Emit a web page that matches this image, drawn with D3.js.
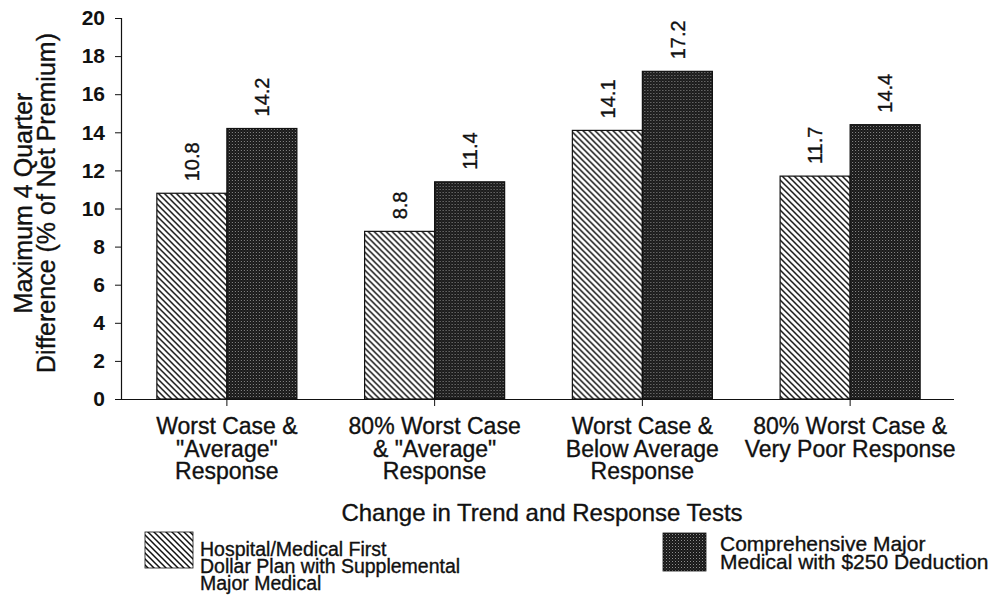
<!DOCTYPE html>
<html>
<head>
<meta charset="utf-8">
<script src="https://cdn.jsdelivr.net/npm/d3@7/dist/d3.min.js"></script>
<style>
  html, body { margin: 0; padding: 0; background: #fff; }
  svg { display: block; font-family: "Liberation Sans", Arial, Helvetica, sans-serif; }
  .heavy { stroke: #111; stroke-width: 0.35px; }
</style>
</head>
<body>
<svg id="chart" width="1003" height="598"></svg>
<script>
// Test scenarios (x categories), one label line per entry
const categories = ["wc_avg", "wc80_avg", "wc_below", "wc80_poor"];
const categoryLines = [
  ["Worst Case &", "\"Average\"", "Response"],
  ["80% Worst Case", "& \"Average\"", "Response"],
  ["Worst Case &", "Below Average", "Response"],
  ["80% Worst Case &", "Very Poor Response"]
];
// Plan types (series)
const seriesKeys = ["firstDollar", "majorMedical"];
const seriesLegend = [
  ["Hospital/Medical First", "Dollar Plan with Supplemental", "Major Medical"],
  ["Comprehensive Major", "Medical with $250 Deduction"]
];
// Maximum 4-quarter difference, % of net premium
const firstDollarValues = [10.8, 8.8, 14.1, 11.7];
const majorMedicalValues = [14.2, 11.4, 17.2, 14.4];
const yTicks = [0, 2, 4, 6, 8, 10, 12, 14, 16, 18, 20];
const yTitleLines = ["Maximum 4 Quarter", "Difference (% of Net Premium)"];
const xTitle = "Change in Trend and Response Tests";

const rows = categories.map((c, i) => ({
  cat: c,
  values: [
    { key: seriesKeys[0], value: firstDollarValues[i] },
    { key: seriesKeys[1], value: majorMedicalValues[i] }
  ]
}));

const svg = d3.select("#chart");

// fill patterns: diagonal hatch and dark stipple
const defs = svg.append("defs");
const hatch = defs.append("pattern")
  .attr("id", "hatch").attr("patternUnits", "userSpaceOnUse")
  .attr("width", 6).attr("height", 6);
hatch.append("rect").attr("width", 6).attr("height", 6).attr("fill", "#fff");
hatch.append("path")
  .attr("d", "M0,0 L6,6 M-1,5 L1,7 M5,-1 L7,1")
  .attr("stroke", "#111").attr("stroke-width", 1.5);

const stipple = defs.append("pattern")
  .attr("id", "stipple").attr("patternUnits", "userSpaceOnUse")
  .attr("width", 3).attr("height", 3);
stipple.append("rect").attr("width", 3).attr("height", 3).attr("fill", "#181818");
stipple.append("rect").attr("x", 0).attr("y", 0).attr("width", 1).attr("height", 1).attr("fill", "#8f8f8f");
stipple.append("rect").attr("x", 1.5).attr("y", 1.5).attr("width", 1).attr("height", 1).attr("fill", "#4a4a4a");

const fills = { firstDollar: "url(#hatch)", majorMedical: "url(#stipple)" };

// scales
const x0 = d3.scaleBand().domain(categories).range([123, 954])
  .paddingInner(0.326).paddingOuter(0.163);
const x1 = d3.scaleBand().domain(seriesKeys).range([0, x0.bandwidth()]);
const y = d3.scaleLinear().domain([0, 20]).range([399, 18]);

// bars
const groups = svg.append("g").selectAll("g").data(rows).join("g")
  .attr("transform", d => `translate(${x0(d.cat)},0)`);

groups.selectAll("rect").data(d => d.values).join("rect")
  .attr("x", d => x1(d.key))
  .attr("y", d => y(d.value))
  .attr("width", x1.bandwidth())
  .attr("height", d => y(0) - y(d.value))
  .attr("fill", d => fills[d.key])
  .attr("stroke", "#111").attr("stroke-width", 1.2);

// value labels, rotated above each bar
groups.selectAll("text.val").data(d => d.values).join("text")
  .attr("class", "val heavy")
  .attr("transform", d => `translate(${x1(d.key) + x1.bandwidth() / 2},${y(d.value) - 12}) rotate(-90)`)
  .attr("dy", "0.36em")
  .attr("font-size", 20)
  .attr("fill", "#111")
  .text(d => d.value.toFixed(1));

// y axis
const yAxis = svg.append("g").attr("transform", "translate(121,0)")
  .call(d3.axisLeft(y).tickValues(yTicks).tickSize(6).tickPadding(10));
yAxis.select(".domain").attr("stroke", "#111").attr("stroke-width", 1.2);
yAxis.selectAll(".tick line").attr("stroke", "#111");
yAxis.selectAll(".tick text")
  .attr("font-size", 21).attr("font-weight", "bold")
  .attr("font-family", "Liberation Sans, Arial, sans-serif").attr("fill", "#111");

// x axis
const xAxis = svg.append("g").attr("transform", `translate(0,${y(0)})`)
  .call(d3.axisBottom(x0).tickSize(7).tickFormat(""));
xAxis.select(".domain").attr("stroke", "#111").attr("stroke-width", 1.2)
  .attr("d", `M121,0.5H954`);
xAxis.selectAll(".tick line").attr("stroke", "#111");

// category labels
const catLabels = svg.append("g").selectAll("text").data(categories).join("text")
  .attr("class", "heavy")
  .attr("x", d => x0(d) + x0.bandwidth() / 2)
  .attr("y", 434)
  .attr("text-anchor", "middle")
  .attr("font-size", 23)
  .attr("fill", "#111");
catLabels.each(function (d, i) {
  const t = d3.select(this);
  categoryLines[i].forEach((line, j) => {
    t.append("tspan")
      .attr("x", x0(d) + x0.bandwidth() / 2)
      .attr("dy", j === 0 ? 0 : 22.5)
      .text(line);
  });
});

// axis titles
svg.append("text")
  .attr("class", "heavy")
  .attr("x", 542).attr("y", 521)
  .attr("text-anchor", "middle")
  .attr("font-size", 24).attr("fill", "#111")
  .text(xTitle);

const yTitle = svg.append("text")
  .attr("class", "heavy")
  .attr("transform", "translate(32,203) rotate(-90)")
  .attr("text-anchor", "middle")
  .attr("font-size", 25).attr("fill", "#111");
yTitleLines.forEach((line, j) => {
  yTitle.append("tspan").attr("x", 0).attr("dy", j === 0 ? 0 : 23).text(line);
});

// legend
const legendItems = [
  { key: seriesKeys[0], sx: 145, sy: 532, sw: 48, sh: 36, tx: 200, ty: 556, fs: 19.5, lh: 17 },
  { key: seriesKeys[1], sx: 663, sy: 533, sw: 43, sh: 38, tx: 720, ty: 551, fs: 21, lh: 18 }
];
const legend = svg.append("g").selectAll("g").data(legendItems).join("g");
legend.append("rect")
  .attr("x", d => d.sx).attr("y", d => d.sy)
  .attr("width", d => d.sw).attr("height", d => d.sh)
  .attr("fill", d => fills[d.key])
  .attr("stroke", "#111").attr("stroke-width", 0.8);
legend.append("text")
  .attr("class", "heavy")
  .attr("font-size", d => d.fs).attr("fill", "#111")
  .each(function (d, i) {
    const t = d3.select(this);
    seriesLegend[i].forEach((line, j) => {
      t.append("tspan").attr("x", d.tx).attr("y", d.ty + j * d.lh).text(line);
    });
  });
</script>
</body>
</html>
